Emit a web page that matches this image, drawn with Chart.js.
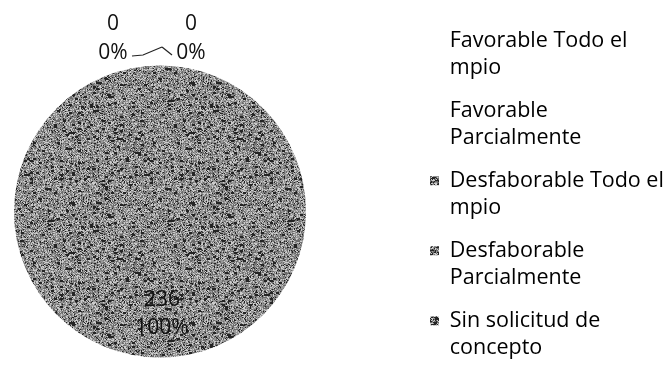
<!DOCTYPE html>
<html>
<head>
<meta charset="utf-8">
<script src="https://cdn.jsdelivr.net/npm/chart.js@4.4.1/dist/chart.umd.min.js"></script>
<style>
  html, body { margin: 0; padding: 0; background: #ffffff; }
  #wrap { width: 666px; height: 371px; position: relative; }
</style>
</head>
<body>
<div id="wrap"><canvas id="chart"></canvas></div>
<script>
// Categories (legend text split into display lines)
const categories = [
  ['Favorable Todo el', 'mpio'],
  ['Favorable', 'Parcialmente'],
  ['Desfaborable Todo el', 'mpio'],
  ['Desfaborable', 'Parcialmente'],
  ['Sin solicitud de', 'concepto']
];
// Number of cases per category (null = no entry)
const caseCounts = [0, 0, null, null, 236];

const FONT = '"Open Sans", Lato, sans-serif';
const TEXT = '#1a1a1a';
const LEGEND_SIZE = 21.5;
const LABEL_SIZE = 21;

// Grainy grey fill for the slice, built from a deterministic hash
function hash(x, y) {
  let h = (Math.imul(x, 374761393) + Math.imul(y, 668265263)) | 0;
  h = Math.imul(h ^ (h >>> 13), 1274126177);
  return ((h ^ (h >>> 16)) >>> 0) / 4294967295;
}
function makeGrain(size, dark) {
  const c = document.createElement('canvas');
  c.width = c.height = size;
  const g = c.getContext('2d');
  const img = g.createImageData(size, size);
  for (let y = 0; y < size; y++) {
    for (let x = 0; x < size; x++) {
      const v = hash(x, y);
      const blob = hash(Math.floor(x / 3) + 911, Math.floor(y / 2) + 377);
      let lv;
      if (blob < 0.06 || v < 0.11 + dark) lv = 36;
      else if (v < 0.42 + dark) lv = 108;
      else if (v < 0.78) lv = 152;
      else lv = 204;
      const k = (y * size + x) * 4;
      img.data[k] = img.data[k + 1] = img.data[k + 2] = lv;
      img.data[k + 3] = 255;
    }
  }
  g.putImageData(img, 0, 0);
  return g.createPattern(c, 'repeat');
}
const grain = makeGrain(120, 0);
const markerGrain = makeGrain(30, 0.2);

const sliceColors = ['#ffffff', '#ffffff', grain, grain, grain];
const markerColors = ['rgba(0,0,0,0)', 'rgba(0,0,0,0)', markerGrain, markerGrain, markerGrain];

// Plot square on the left; legend column on the right
const plotBox = { left: 14, top: 65.5, size: 292 };
const placePlot = {
  id: 'placePlot',
  afterLayout(chart) {
    const { left, top, size } = plotBox;
    chart.chartArea = { left, top, right: left + size, bottom: top + size, width: size, height: size };
  }
};

// Legend column starts at x = 414; right padding follows from the widest entry
const LEGEND_LEFT = 414, LEGEND_PAD = 16, BOX = 9;
const probe = document.createElement('canvas').getContext('2d');
probe.font = LEGEND_SIZE + 'px ' + FONT;
const widest = Math.max(...categories.flat().map(t => probe.measureText(t).width));
const legendWidth = LEGEND_PAD + BOX + LEGEND_SIZE / 2 + widest + 10;
const rightPad = 666 - LEGEND_LEFT - legendWidth;

// Value and percentage labels for each slice
const sliceLabels = {
  id: 'sliceLabels',
  afterDatasetsDraw(chart) {
    const ctx = chart.ctx;
    const meta = chart.getDatasetMeta(0);
    const data = chart.data.datasets[0].data;
    const total = data.reduce((s, v) => s + (v || 0), 0);
    ctx.save();
    ctx.font = LABEL_SIZE + 'px ' + FONT;
    ctx.fillStyle = '#111';
    ctx.textAlign = 'center';
    ctx.textBaseline = 'middle';
    let zeroIdx = 0;
    meta.data.forEach((arc, i) => {
      const v = data[i];
      if (v === null || v === undefined) return;
      const pct = Math.round(v / total * 100) + '%';
      const { x, y, startAngle, endAngle, outerRadius } = arc.getProps(['x', 'y', 'startAngle', 'endAngle', 'outerRadius'], true);
      if (endAngle - startAngle > 0) {
        const mid = (startAngle + endAngle) / 2;
        const d = outerRadius * 0.70;
        const lx = x + Math.cos(mid) * d + 2;
        const ly = y + Math.sin(mid) * d;
        ctx.fillText(String(v), lx, ly - 14);
        ctx.fillText(pct, lx, ly + 14);
      } else {
        // empty slices: labels sit above the rim, fanned left and right
        const ax = x + Math.cos(startAngle) * outerRadius;
        const ay = y + Math.sin(startAngle) * outerRadius;
        const side = zeroIdx === 0 ? -1 : 1;
        const lx = ax + (side < 0 ? -47 : 31);
        ctx.fillText(String(v), lx, ay - 41.5);
        ctx.fillText(pct, lx, ay - 12.5);
        ctx.beginPath();
        ctx.strokeStyle = '#222';
        ctx.lineWidth = 1.2;
        if (side < 0) {
          ctx.moveTo(ax - 28, ay - 9.5);
          ctx.lineTo(ax - 17, ay - 10.5);
          ctx.lineTo(ax + 2, ay - 18.5);
        } else {
          ctx.moveTo(ax + 12, ay - 10.5);
          ctx.lineTo(ax + 2, ay - 18.5);
        }
        ctx.stroke();
        zeroIdx++;
      }
    });
    ctx.restore();
  }
};

new Chart(document.getElementById('chart'), {
  type: 'pie',
  data: {
    labels: categories,
    datasets: [{
      data: caseCounts,
      backgroundColor: sliceColors,
      borderWidth: 0
    }]
  },
  options: {
    responsive: true,
    maintainAspectRatio: false,
    animation: false,
    layout: { padding: { top: 14, bottom: -14, right: rightPad } },
    plugins: {
      tooltip: { enabled: false },
      legend: {
        position: 'right',
        align: 'start',
        labels: {
          boxWidth: BOX,
          boxHeight: BOX,
          padding: LEGEND_PAD,
          color: TEXT,
          font: { family: FONT, size: LEGEND_SIZE, lineHeight: 27 / LEGEND_SIZE },
          generateLabels(chart) {
            return chart.data.labels.map((label, i) => ({
              text: label,
              fillStyle: markerColors[i],
              strokeStyle: 'rgba(0,0,0,0)',
              lineWidth: 0,
              hidden: false,
              index: i
            }));
          }
        }
      }
    }
  },
  plugins: [placePlot, sliceLabels]
});
</script>
</body>
</html>
